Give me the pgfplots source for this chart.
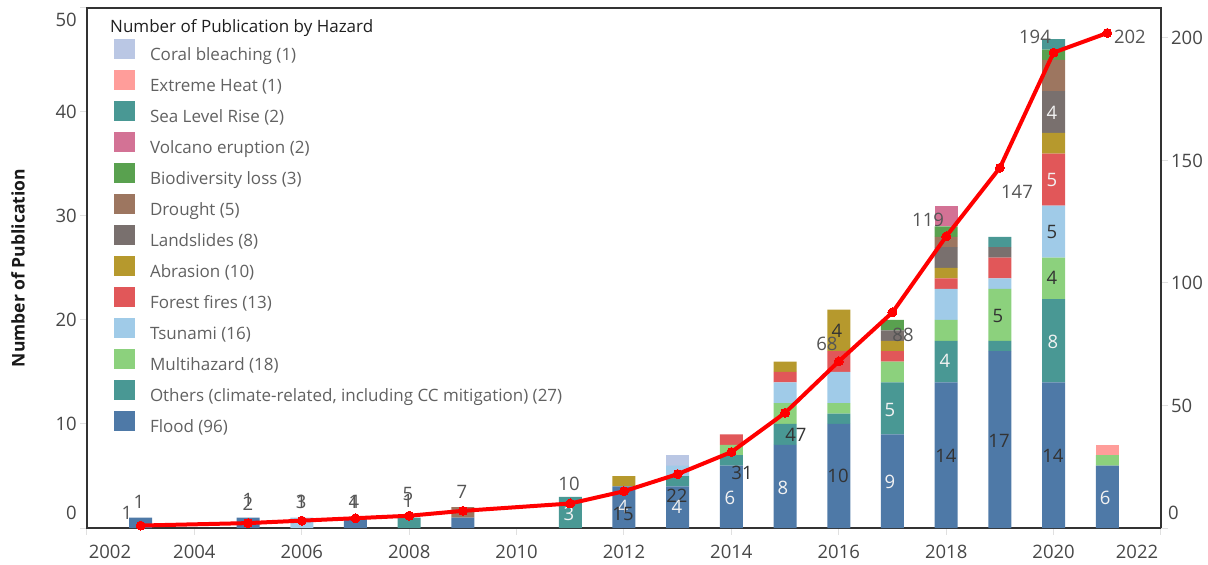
\documentclass[border=0pt]{standalone}
\usepackage{fontspec}
\setmainfont{Open Sans}
\usepackage{pgfplots}
\pgfplotsset{compat=1.18}
\usepackage{pgfplotstable}

\definecolor{cFlood}{HTML}{4E79A7}
\definecolor{cOthers}{HTML}{499894}
\definecolor{cMulti}{HTML}{8CD17D}
\definecolor{cTsunami}{HTML}{A0CBE8}
\definecolor{cForest}{HTML}{E15759}
\definecolor{cAbrasion}{HTML}{B6992D}
\definecolor{cLand}{HTML}{79706E}
\definecolor{cDrought}{HTML}{9D7660}
\definecolor{cBio}{HTML}{59A14F}
\definecolor{cVolcano}{HTML}{D37295}
\definecolor{cSea}{HTML}{499894}
\definecolor{cHeat}{HTML}{FF9D9A}
\definecolor{cCoral}{HTML}{BAC7E4}
\definecolor{lblgray}{HTML}{555555}
\definecolor{lbldark}{HTML}{333333}
\definecolor{lblwhite}{HTML}{F2F2F2}

\pgfplotstableread{
year flood others multi tsunami forest abrasion landslides drought biodiv volcano sealevel heat coral cum
2003 1 0 0 0 0 0 0 0 0 0 0 0 0 1
2005 1 0 0 0 0 0 0 0 0 0 0 0 0 2
2006 0 0 0 1 0 0 0 0 0 0 0 0 0 3
2007 1 0 0 0 0 0 0 0 0 0 0 0 0 4
2008 0 1 0 0 0 0 0 0 0 0 0 0 0 5
2009 1 0 0 0 0 0 0 1 0 0 0 0 0 7
2011 0 3 0 0 0 0 0 0 0 0 0 0 0 10
2012 4 0 0 0 0 1 0 0 0 0 0 0 0 15
2013 4 1 0 1 0 0 0 0 0 0 0 0 1 22
2014 6 1 1 0 1 0 0 0 0 0 0 0 0 31
2015 8 2 2 2 1 1 0 0 0 0 0 0 0 47
2016 10 1 1 3 2 4 0 0 0 0 0 0 0 68
2017 9 5 2 0 1 1 1 0 1 0 0 0 0 88
2018 14 4 2 3 1 1 2 1 1 2 0 0 0 119
2019 17 1 5 1 2 0 1 0 0 0 1 0 0 147
2020 14 8 4 5 5 2 4 3 1 0 1 0 0 194
2021 6 0 1 0 0 0 0 0 0 0 0 1 0 202
}\datatable

\pgfplotsset{
  mybar/.style={fill=#1, draw=none,
    legend image code/.code={\path[fill=none,draw=none] (0bp,-10.5bp) rectangle (36bp,20.5bp);
      \fill[#1] (0bp,-4.3bp) rectangle (21bp,15.7bp);}},
}
\newcommand{\tf}{\fontsize{18.5bp}{21bp}\selectfont}

\begin{document}
\begin{tikzpicture}
\begin{axis}[
  at={(0,0)}, anchor=south west,
  scale only axis, width=1074bp, height=520bp,
  xmin=2002, xmax=2022, ymin=0, ymax=50,
  ybar stacked, bar width=23bp,
  clip=false,
  axis line style={black!80, line width=1.2bp},
  tick align=outside, major tick length=7bp,
  tick style={black!12, line width=1bp},
  xtick pos=bottom, ytick pos=left,
  xtick={2002,2004,...,2022},
  xticklabels={,2004,2006,2008,2010,2012,2014,2016,2018,2020,},
  ytick={0,10,...,50},
  yticklabels={,10,20,30,40,},
  /pgf/number format/assume math mode=true,
  tick label style={font=\tf, text=black!72, inner sep=0pt},
  xticklabel style={anchor=north, yshift=-9.5bp},
  yticklabel style={anchor=east, xshift=-3bp},
  every axis y label/.style={at={(axis description cs:-0.0642,0.5)}, rotate=90, anchor=center},
  ylabel={Number of Publication},
  ylabel style={font=\fontsize{17.5bp}{20bp}\selectfont\bfseries, text=black!90},
  reverse legend,
  legend style={at={(rel axis cs:0.02514,0.9496)}, anchor=north west, draw=none, fill=none,
    inner sep=0pt, outer sep=0pt, row sep=0pt,
    font=\fontsize{17bp}{19bp}\selectfont, text=black!62,
    nodes={inner sep=0pt}},
  legend cell align=left,
]
\addplot[mybar=cFlood] table[x=year,y=flood]{\datatable};
\addplot[mybar=cOthers] table[x=year,y=others]{\datatable};
\addplot[mybar=cMulti] table[x=year,y=multi]{\datatable};
\addplot[mybar=cTsunami] table[x=year,y=tsunami]{\datatable};
\addplot[mybar=cForest] table[x=year,y=forest]{\datatable};
\addplot[mybar=cAbrasion] table[x=year,y=abrasion]{\datatable};
\addplot[mybar=cLand] table[x=year,y=landslides]{\datatable};
\addplot[mybar=cDrought] table[x=year,y=drought]{\datatable};
\addplot[mybar=cBio] table[x=year,y=biodiv]{\datatable};
\addplot[mybar=cVolcano] table[x=year,y=volcano]{\datatable};
\addplot[mybar=cSea] table[x=year,y=sealevel]{\datatable};
\addplot[mybar=cHeat] table[x=year,y=heat]{\datatable};
\addplot[mybar=cCoral] table[x=year,y=coral]{\datatable};
\legend{Flood (96),Others (climate-related{,} including CC mitigation) (27),Multihazard (18),Tsunami (16),Forest fires (13),Abrasion (10),Landslides (8),Drought (5),Biodiversity loss (3),Volcano eruption (2),Sea Level Rise (2),Extreme Heat (1),Coral bleaching (1)}
\node[anchor=west, inner sep=0pt, font=\fontsize{17bp}{19bp}\selectfont, text=black!88] at (rel axis cs:0.02142,0.9615) {Number of Publication by Hazard};
% manual tick labels
\node[anchor=east, inner sep=0pt, font=\tf, text=black!72] at (rel axis cs:-0.0093,0.0288) {0};
\node[anchor=east, inner sep=0pt, font=\tf, text=black!72] at (rel axis cs:-0.0093,0.977) {50};
\node[inner sep=0pt, font=\tf, text=black!72] at (rel axis cs:0.0214,-0.0462) {2002};
\node[inner sep=0pt, font=\tf, text=black!72] at (rel axis cs:0.9777,-0.0462) {2022};
\end{axis}

\begin{axis}[
  at={(0,0)}, anchor=south west,
  scale only axis, width=1074bp, height=520bp,
  xmin=2002, xmax=2022, ymin=0, ymax=212.2,
  axis x line=none, axis y line*=right,
  clip=false,
  axis line style={black!80, line width=1.2bp},
  tick align=outside, major tick length=7bp,
  tick style={black!12, line width=1bp},
  ytick={0,50,...,200},
  yticklabels={,50,100,150,200},
  tick label style={font=\tf, text=black!72, inner sep=0pt},
  yticklabel style={anchor=west, xshift=3bp},
]
\addplot[color=red, line width=4bp, mark=*, mark size=4.5bp, mark options={fill=red, draw=red, line width=0pt}] table[x=year,y=cum]{\datatable};
\node[anchor=west, inner sep=0pt, font=\tf, text=black!72] at (rel axis cs:1.0065,0.0288) {0};
% labels
\begin{scope}[every node/.style={inner sep=0pt, font=\tf}]
\node[text=lblgray] at (rel axis cs:0.0484,0.0500) {1};
\node[text=lblgray] at (rel axis cs:0.0372,0.0288) {1};
\node[text=lblgray] at (rel axis cs:0.1499,0.0540) {1};
\node[text=lblgray] at (rel axis cs:0.1499,0.0462) {2};
\node[text=lblgray] at (rel axis cs:0.1993,0.0500) {1};
\node[text=lblgray] at (rel axis cs:0.1993,0.0500) {3};
\node[text=lblgray] at (rel axis cs:0.2486,0.0500) {1};
\node[text=lblgray] at (rel axis cs:0.2486,0.0500) {4};
\node[text=lblgray] at (rel axis cs:0.2989,0.0654) {5};
\node[text=lblgray] at (rel axis cs:0.2989,0.0519) {1};
\node[text=lblgray] at (rel axis cs:0.3492,0.0692) {7};
\node[text=lblgray] at (rel axis cs:0.4488,0.0846) {10};
\node[text=lblwhite] at (rel axis cs:0.4488,0.0269) {3};
\node[text=lblwhite] at (rel axis cs:0.4991,0.0404) {4};
\node[text=lbldark] at (rel axis cs:0.4991,0.0269) {15};
\node[text=lbldark] at (rel axis cs:0.5493,0.0615) {22};
\node[text=lblwhite] at (rel axis cs:0.5493,0.0404) {4};
\node[text=lblwhite] at (rel axis cs:0.5987,0.0577) {6};
\node[text=lbldark] at (rel axis cs:0.6099,0.1058) {31};
\node[text=lblwhite] at (rel axis cs:0.6480,0.0769) {8};
\node[text=lbldark] at (rel axis cs:0.6601,0.1788) {47};
\node[text=lbldark] at (rel axis cs:0.6993,0.1000) {10};
\node[text=lbldark] at (rel axis cs:0.6983,0.3788) {4};
\node[text=lblgray] at (rel axis cs:0.6890,0.3538) {68};
\node[text=lblwhite] at (rel axis cs:0.7477,0.0885) {9};
\node[text=lblwhite] at (rel axis cs:0.7477,0.2269) {5};
\node[text=lblgray] at (rel axis cs:0.7598,0.3712) {88};
\node[text=lbldark] at (rel axis cs:0.7998,0.1385) {14};
\node[text=lblwhite] at (rel axis cs:0.7989,0.3212) {4};
\node[text=lblgray] at (rel axis cs:0.7831,0.5923) {119};
\node[text=lbldark] at (rel axis cs:0.8492,0.1673) {17};
\node[text=lbldark] at (rel axis cs:0.8482,0.4077) {5};
\node[text=lblgray] at (rel axis cs:0.8659,0.6462) {147};
\node[text=lbldark] at (rel axis cs:0.8994,0.1385) {14};
\node[text=lblwhite] at (rel axis cs:0.8994,0.3577) {8};
\node[text=lbldark] at (rel axis cs:0.8985,0.4808) {4};
\node[text=lbldark] at (rel axis cs:0.8985,0.5692) {5};
\node[text=lblwhite] at (rel axis cs:0.8985,0.6692) {5};
\node[text=lblwhite] at (rel axis cs:0.8985,0.7981) {4};
\node[text=lblgray] at (rel axis cs:0.8827,0.9442) {194};
\node[text=lblwhite] at (rel axis cs:0.9479,0.0577) {6};
\node[text=lblgray] at (rel axis cs:0.9711,0.9442) {202};
\end{scope}
\end{axis}
\pgfresetboundingbox
\path[use as bounding box] (-87bp,-37bp) rectangle (1121bp,528bp);
\end{tikzpicture}
\end{document}
